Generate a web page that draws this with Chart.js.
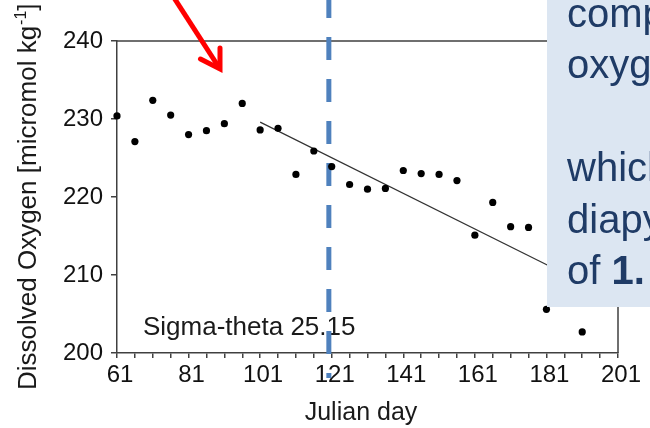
<!DOCTYPE html>
<html>
<head>
<meta charset="utf-8">
<script src="https://cdn.jsdelivr.net/npm/chart.js@4.4.0/dist/chart.umd.min.js"></script>
<style>
  html, body { margin: 0; padding: 0; background: #fff; overflow: hidden; }
  #wrap { width: 650px; height: 428px; }
</style>
</head>
<body>
<div id="wrap"><canvas id="chart" width="650" height="428"></canvas></div>
<script>
// Julian day of each cast and dissolved oxygen on sigma-theta 25.15
const days   = [61, 66, 71, 76, 81, 86, 91, 96, 101, 106, 111, 116, 121, 126, 131, 136, 141, 146, 151, 156, 161, 166, 171, 176, 181, 191];
const oxygen = [230.4, 227.1, 232.4, 230.5, 228.0, 228.5, 229.4, 232.0, 228.6, 228.8, 222.9, 225.9, 223.9, 221.6, 221.0, 221.1, 223.4, 223.0, 222.9, 222.1, 215.1, 219.3, 216.2, 216.1, 205.6, 202.7];

// fitted decline after day 101
const trendDays   = [101, 186];
const trendOxygen = [229.6, 210.2];

// axes
const xMin = 61, xMax = 201, xMinorStep = 5;
const xLabelTicks = [61, 81, 101, 121, 141, 161, 181, 201];
const yTicks = [200, 210, 220, 230, 240];
const markerDay = 120.2;

const boxLines = ['compute', 'oxygen', '', 'which', 'diapycnal'];
const FONT = '"Liberation Sans", Arial, Helvetica, sans-serif';

const xTickValues = [];
for (let d = xMin; d <= xMax; d += xMinorStep) xTickValues.push(d);

const overlay = {
  id: 'overlay',
  beforeDatasetsDraw(chart) {
    const { ctx, chartArea: a, scales: { x } } = chart;
    ctx.save();
    // top and right frame
    ctx.strokeStyle = '#404040';
    ctx.lineWidth = 1.5;
    ctx.beginPath();
    ctx.moveTo(a.left, a.top);
    ctx.lineTo(a.right, a.top);
    ctx.lineTo(a.right, a.bottom);
    ctx.stroke();

    ctx.fillStyle = '#1a1a1a';
    ctx.font = '26px ' + FONT;
    ctx.textBaseline = 'alphabetic';
    ctx.fillText('Sigma-theta 25.15', 143, 335);

    // dashed marker line
    const mx = x.getPixelForValue(markerDay);
    ctx.strokeStyle = '#4f81bd';
    ctx.lineWidth = 5;
    ctx.setLineDash([23, 19]);
    ctx.beginPath();
    ctx.moveTo(mx, -5);
    ctx.lineTo(mx, 378);
    ctx.stroke();
    ctx.restore();
  },
  afterDraw(chart) {
    const { ctx } = chart;
    ctx.save();

    // axis titles
    ctx.fillStyle = '#1a1a1a';
    ctx.font = '25px ' + FONT;
    ctx.textAlign = 'center';
    ctx.fillText('Julian day', 361, 420);

    ctx.save();
    ctx.translate(36, 390);
    ctx.rotate(-Math.PI / 2);
    ctx.textAlign = 'left';
    ctx.font = '26px ' + FONT;
    const t1 = 'Dissolved Oxygen [micromol kg';
    ctx.fillText(t1, 0, 0);
    let w = ctx.measureText(t1).width;
    ctx.font = '16px ' + FONT;
    ctx.fillText('-1', w + 1, -10);
    w += ctx.measureText('-1').width + 1;
    ctx.font = '26px ' + FONT;
    ctx.fillText(']', w, 0);
    ctx.restore();

    // text box
    ctx.fillStyle = '#dce6f2';
    ctx.fillRect(547, 0, 103, 307);
    ctx.fillStyle = '#1f3b66';
    ctx.font = '40px ' + FONT;
    ctx.textAlign = 'left';
    boxLines.forEach((s, i) => ctx.fillText(s, 567, 27 + i * 51.4));
    const lastY = 27 + 5 * 51.4;
    ctx.fillText('of ', 567, lastY);
    const ow = ctx.measureText('of ').width;
    ctx.font = 'bold 40px ' + FONT;
    ctx.fillText('1.', 567 + ow, lastY);

    // red arrow
    ctx.strokeStyle = '#ff0000';
    ctx.lineWidth = 5;
    ctx.lineCap = 'butt';
    ctx.beginPath();
    ctx.moveTo(169, -10);
    ctx.lineTo(220, 69);
    ctx.stroke();
    ctx.lineCap = 'round';
    ctx.lineJoin = 'miter';
    ctx.beginPath();
    ctx.moveTo(200.5, 59);
    ctx.lineTo(220, 69);
    ctx.lineTo(220, 48);
    ctx.stroke();
    ctx.restore();
  }
};

new Chart(document.getElementById('chart'), {
  type: 'scatter',
  data: {
    datasets: [
      {
        data: days.map((d, i) => ({ x: d, y: oxygen[i] })),
        backgroundColor: '#000',
        borderColor: '#000',
        pointRadius: 3.6,
        pointBorderWidth: 0,
        clip: false
      },
      {
        type: 'line',
        data: trendDays.map((d, i) => ({ x: d, y: trendOxygen[i] })),
        borderColor: '#333',
        borderWidth: 1.2,
        pointRadius: 0,
        fill: false
      }
    ]
  },
  options: {
    responsive: false,
    animation: false,
    devicePixelRatio: 1,
    layout: { padding: { top: 41, right: 32, bottom: 0, left: 0 } },
    plugins: { legend: { display: false }, tooltip: { enabled: false } },
    scales: {
      x: {
        type: 'linear',
        min: xMin,
        max: xMax,
        afterBuildTicks: (s) => { s.ticks = xTickValues.map(v => ({ value: v })); },
        afterFit: (s) => { s.height = 75; },
        border: { color: '#404040', width: 1.5 },
        grid: { drawOnChartArea: false, drawTicks: true, tickLength: 5, color: '#404040', lineWidth: 1.5 },
        ticks: {
          autoSkip: false,
          maxRotation: 0,
          padding: 3,
          labelOffset: 3,
          color: '#111',
          font: { family: FONT, size: 24 },
          callback: (v) => xLabelTicks.includes(v) ? String(v) : ''
        }
      },
      y: {
        min: yTicks[0],
        max: yTicks[yTicks.length - 1],
        afterBuildTicks: (s) => { s.ticks = yTicks.map(v => ({ value: v })); },
        afterFit: (s) => { s.width = 117; },
        border: { color: '#404040', width: 1.5 },
        grid: { drawOnChartArea: false, drawTicks: true, tickLength: 6, color: '#404040', lineWidth: 1.5 },
        ticks: {
          padding: 8,
          color: '#111',
          font: { family: FONT, size: 24 }
        }
      }
    }
  },
  plugins: [overlay]
});
</script>
</body>
</html>
